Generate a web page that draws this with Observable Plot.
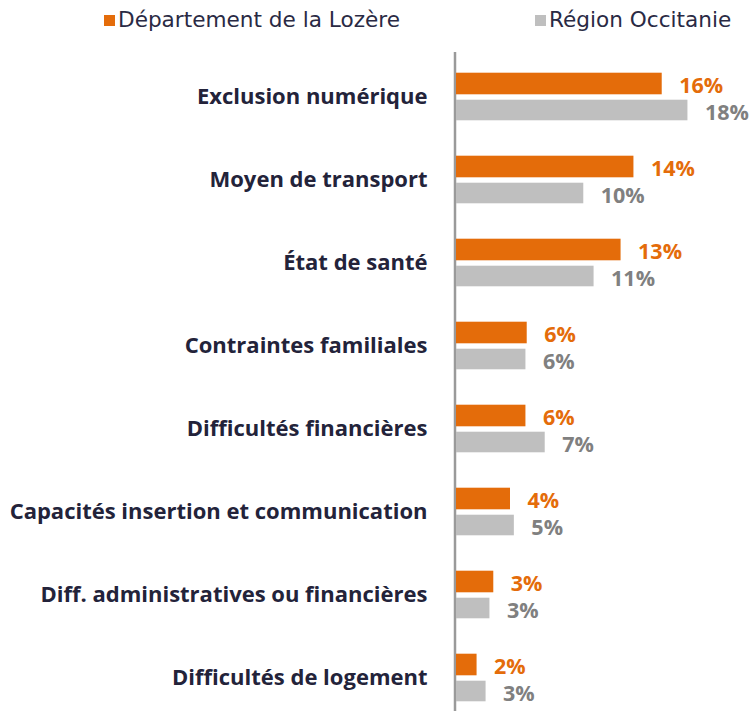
<!DOCTYPE html>
<html><head><meta charset="utf-8">
<script src="https://cdn.jsdelivr.net/npm/d3@7"></script>
<script src="https://cdn.jsdelivr.net/npm/@observablehq/plot@0.6"></script>
<style>
body{margin:0;background:#fff;}
#legend{position:relative;width:753px;height:40px;font-family:"DejaVu Sans",sans-serif;font-size:21.6px;color:#2a2a44;}
.item{position:absolute;top:8px;white-space:nowrap;line-height:24px;}
.sw{display:inline-block;width:11px;height:11px;margin-right:3px;vertical-align:1px;}
</style></head>
<body>
<div id="legend"></div>
<div id="chart"></div>
<script>
const categories = ["Exclusion numérique","Moyen de transport","État de santé","Contraintes familiales","Difficultés financières","Capacités insertion et communication","Diff. administratives ou financières","Difficultés de logement"];
const lozere = [16, 13.8, 12.8, 5.5, 5.4, 4.2, 2.9, 1.6];
const occitanie = [18, 9.9, 10.7, 5.4, 6.9, 4.5, 2.6, 2.3];
const lozereLabels = ["16%","14%","13%","6%","6%","4%","3%","2%"];
const occitanieLabels = ["18%","10%","11%","6%","7%","5%","3%","3%"];
const seriesNames = ["Département de la Lozère","Région Occitanie"];
const colors = ["#E46C0A","#BFBFBF"];
const labelColors = ["#E46C0A","#808080"];

// legend
const legend = document.getElementById("legend");
const legendLeft = [104, 535];
seriesNames.forEach((s,i)=>{
  const d = document.createElement("div");
  d.className="item"; d.style.left = legendLeft[i]+"px";
  d.innerHTML = `<span class="sw" style="background:${colors[i]}"></span>${s}`;
  legend.appendChild(d);
});

const dLoz = categories.map((c,i)=>({cat:c, value:lozere[i], label:lozereLabels[i]}));
const dOcc = categories.map((c,i)=>({cat:c, value:occitanie[i], label:occitanieLabels[i]}));

const font = "'Open Sans', sans-serif";
const chart = Plot.plot({
  width:753, height:671,
  marginLeft:456, marginRight:0, marginTop:12, marginBottom:0,
  x:{domain:[0,23.1], axis:null},
  y:{domain:categories, range:[13.3,680.7], padding:0, axis:null},
  style:{fontFamily:font, background:"#fff"},
  marks:[
    Plot.ruleX([0], {stroke:"#9a9a9a", strokeWidth:2.5, dx:-1.5}),
    Plot.barX(dLoz, {x:"value", y:"cat", fill:colors[0], insetTop:17.7, insetBottom:43.7}),
    Plot.barX(dOcc, {x:"value", y:"cat", fill:colors[1], insetTop:44.7, insetBottom:17.7}),
    Plot.text(dLoz, {x:"value", y:"cat", text:"label", fill:labelColors[0], textAnchor:"start", dx:17, dy:-11, fontSize:21.5, fontWeight:700}),
    Plot.text(dOcc, {x:"value", y:"cat", text:"label", fill:labelColors[1], textAnchor:"start", dx:17, dy:16, fontSize:21.5, fontWeight:700}),
    Plot.axisY({tickSize:0, tickPadding:29, fontSize:22, fontWeight:700, fill:"#23233a", label:null})
  ]
});
document.getElementById("chart").appendChild(chart);
</script>
</body></html>
